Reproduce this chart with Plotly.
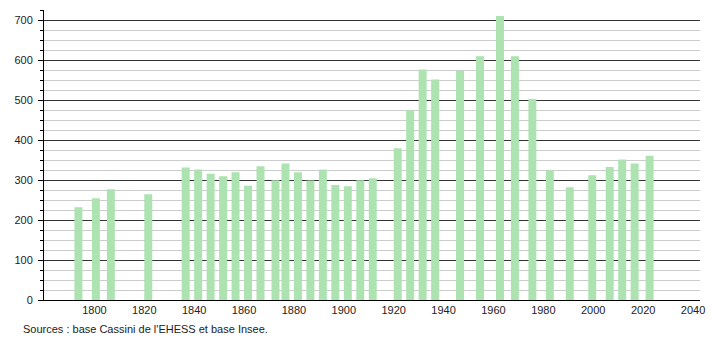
import plotly.graph_objects as go

years = [1793, 1800, 1806, 1821, 1836, 1841, 1846, 1851, 1856, 1861, 1866, 1872, 1876,
         1881, 1886, 1891, 1896, 1901, 1906, 1911, 1921, 1926, 1931, 1936, 1946, 1954,
         1962, 1968, 1975, 1982, 1990, 1999, 2006, 2011, 2016, 2022]
population = [232, 255, 277, 265, 332, 327, 316, 310, 320, 286, 335, 300, 342,
              320, 299, 327, 288, 285, 300, 305, 380, 475, 577, 552, 574, 610,
              711, 610, 503, 325, 282, 312, 333, 352, 342, 361]
x_ticks = [1800, 1820, 1840, 1860, 1880, 1900, 1920, 1940, 1960, 1980, 2000, 2020, 2040]
source_text = "Sources : base Cassini de l'EHESS et base Insee."

fig = go.Figure()
fig.add_trace(go.Bar(
    x=[y + 0.6 for y in years], y=population, width=3.2,
    marker=dict(color="#ade3b1", line=dict(width=0)),
    hoverinfo="x+y",
))

fig.update_layout(
    width=710, height=340,
    margin=dict(l=44, r=10, t=10, b=40),
    plot_bgcolor="white", paper_bgcolor="white",
    font=dict(family="Liberation Sans, Arial, sans-serif", size=11, color="#222"),
    showlegend=False,
    xaxis=dict(
        range=[1779.8, 2042.8], tickmode="array", tickvals=x_ticks,
        ticktext=[str(t) for t in x_ticks],
        showgrid=False, zeroline=False, automargin=False,
        showline=True, linecolor="black", linewidth=1,
        ticks="", tickfont=dict(size=11, color="#222"),
    ),
    yaxis=dict(
        range=[0, 726], tick0=0, dtick=100,
        showgrid=True, gridcolor="#333333", gridwidth=1,
        zeroline=False, automargin=False,
        showline=True, linecolor="black", linewidth=1,
        ticks="outside", ticklen=5, tickcolor="black",
        ticklabelstandoff=3,
        tickfont=dict(size=11, color="#222"),
        minor=dict(dtick=25, showgrid=True, gridcolor="#cccccc", gridwidth=1,
                   ticks="outside", ticklen=3, tickcolor="black"),
        layer="below traces",
    ),
    annotations=[dict(
        text=source_text, xref="paper", yref="paper",
        x=(21 - 44) / 656, y=(300 - 329) / 290,
        xanchor="left", yanchor="middle", showarrow=False,
        font=dict(size=11, color="#222"),
    )],
)

fig.write_html("out.html")
